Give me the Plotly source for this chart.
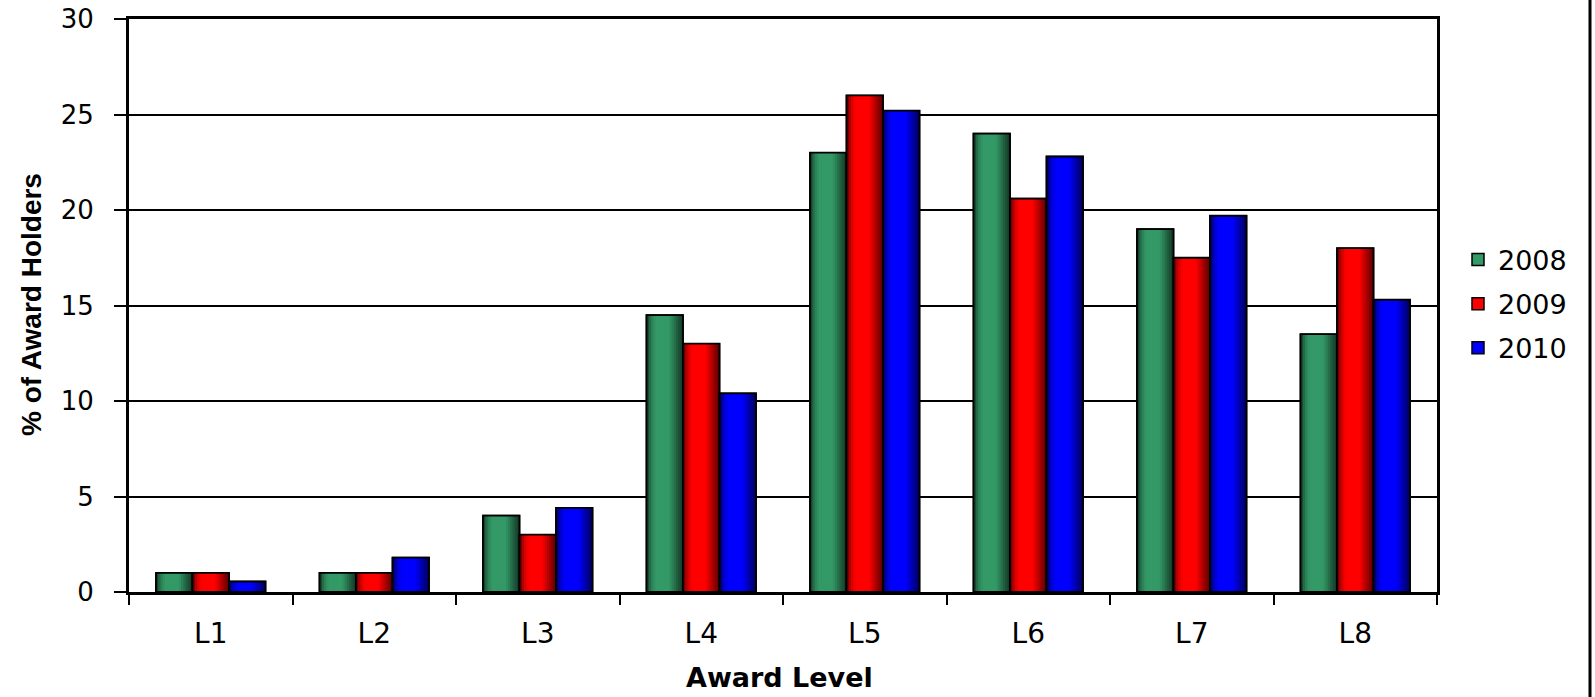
import plotly.graph_objects as go

categories = ["L1", "L2", "L3", "L4", "L5", "L6", "L7", "L8"]
years = ["2008", "2009", "2010"]
v2008 = [1.0, 1.0, 4.0, 14.5, 23.0, 24.0, 19.0, 13.5]
v2009 = [1.0, 1.0, 3.0, 13.0, 26.0, 20.6, 17.5, 18.0]
v2010 = [0.55, 1.8, 4.4, 10.4, 25.2, 22.8, 19.7, 15.3]
colors = [(0x33, 0x99, 0x66), (0xFF, 0x00, 0x00), (0x00, 0x00, 0xFF)]

W, H = 1595, 697
PL, PR, PT, PB = 129, 1437, 19, 592  # plot area in pixels
PW, PH = PR - PL, PB - PT

BARW = 0.2233
OFFS = [-0.335, -0.335 + BARW, -0.335 + 2 * BARW]
NSTRIP = 16
PROFILE = [(0.0, 0.32), (0.12, 0.8), (0.25, 1.0), (0.62, 1.0), (0.85, 0.6), (1.0, 0.35)]


def shade(t):
    for (t0, f0), (t1, f1) in zip(PROFILE[:-1], PROFILE[1:]):
        if t0 <= t <= t1:
            return f0 + (f1 - f0) * (t - t0) / (t1 - t0)
    return PROFILE[-1][1]


def rgb(c, f=1.0):
    return "rgb(%d,%d,%d)" % tuple(int(round(v * f)) for v in c)


def px_x(x):
    return (x - PL) / PW


def px_y(y):
    return (PB - y) / PH


fig = go.Figure()
series = [v2008, v2009, v2010]
for name, vals, col, off in zip(years, series, colors, OFFS):
    fig.add_trace(go.Bar(
        x=categories, y=vals, name=name, legendgroup=name,
        offset=off, width=BARW,
        marker=dict(color=rgb(col), line=dict(color="black", width=1.5)),
    ))
    sw = BARW / NSTRIP
    for j in range(NSTRIP):
        t = (j + 0.5) / NSTRIP
        fig.add_trace(go.Bar(
            x=categories, y=vals, legendgroup=name, showlegend=False,
            offset=off + j * sw, width=sw * 1.35 if j < NSTRIP - 1 else sw,
            marker=dict(color=rgb(col, shade(t)), line=dict(width=0)),
            hoverinfo="skip",
        ))
    fig.add_trace(go.Bar(
        x=categories, y=vals, legendgroup=name, showlegend=False,
        offset=off, width=BARW,
        marker=dict(color="rgba(0,0,0,0)", line=dict(color="black", width=1.8)),
        hoverinfo="skip",
    ))

hfont = "DejaVu Sans, Verdana, sans-serif"
xline = px_x(1590)
fig.update_layout(
    width=W, height=H,
    margin=dict(l=PL, r=W - PR, t=PT, b=H - PB, pad=0),
    paper_bgcolor="white", plot_bgcolor="white",
    barmode="overlay",
    font=dict(family=hfont, size=24, color="black"),
    showlegend=True,
    legend=dict(x=px_x(1458), y=px_y(304), xanchor="left", yanchor="middle",
                font=dict(family=hfont, size=27), tracegroupgap=6,
                bgcolor="rgba(0,0,0,0)", borderwidth=0),
    xaxis=dict(
        showline=True, linecolor="black", linewidth=2.5, automargin=False, mirror=True,
        ticks="outside", tickson="boundaries", ticklen=10, tickwidth=2, tickcolor="black",
        tickfont=dict(family=hfont, size=28), ticklabelstandoff=15,
        showgrid=False, range=[-0.5, 7.5],
    ),
    yaxis=dict(
        range=[0, 30.0001], tickvals=[0, 5, 10, 15, 20, 25, 30], automargin=False,
        showline=True, linecolor="black", linewidth=3, mirror=True,
        ticks="outside", ticklen=12, tickwidth=2, tickcolor="black",
        tickfont=dict(family=hfont, size=26), ticklabelstandoff=15,
        showgrid=True, gridcolor="black", gridwidth=2,
        zeroline=False,
    ),
    annotations=[
        dict(text="<b>Award Level</b>", xref="paper", yref="paper",
             x=px_x(779), y=px_y(678), xanchor="center", yanchor="middle",
             showarrow=False, font=dict(family=hfont, size=27)),
        dict(text="<b>% of Award Holders</b>", xref="paper", yref="paper",
             x=px_x(31), y=px_y(305), xanchor="center", yanchor="middle",
             textangle=-90, showarrow=False,
             font=dict(family="Liberation Sans, Arial, sans-serif", size=28)),
    ],
    shapes=[dict(type="line", xref="paper", yref="paper", layer="above",
                 x0=xline, x1=xline, y0=px_y(697), y1=px_y(0),
                 line=dict(color="black", width=3))],
)

fig.write_html(
    "out.html",
    config={"displayModeBar": False},
    post_script="document.body.style.margin='0';document.body.style.overflow='hidden';",
)
